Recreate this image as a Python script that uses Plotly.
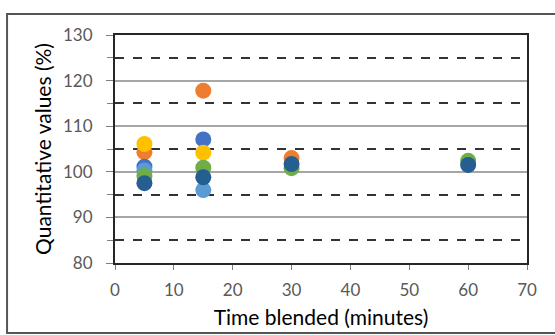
import plotly.graph_objects as go

time_min = [5, 15, 30, 60]

series_names = ["Orange", "Blue", "Yellow", "Light blue", "Green", "Dark blue"]
series_colors = ["#ED7D31", "#4472C4", "#FFC000", "#5B9BD5", "#70AD47", "#255E91"]
orange_vals = [104.3, 117.8, 103.0, None]
blue_vals = [101.1, 107.1, None, None]
yellow_vals = [106.1, 104.2, None, None]
lightblue_vals = [100.3, 96.0, None, None]
green_vals = [99.1, 100.9, 100.8, 102.4]
darkblue_vals = [97.5, 98.8, 101.7, 101.5]
all_vals = [orange_vals, blue_vals, yellow_vals, lightblue_vals, green_vals, darkblue_vals]

x_ticks = [0, 10, 20, 30, 40, 50, 60, 70]
y_ticks = [80, 90, 100, 110, 120, 130]

fig = go.Figure()
for name, color, vals in zip(series_names, series_colors, all_vals):
    fig.add_trace(go.Scatter(
        x=time_min, y=vals, mode="markers", name=name,
        marker=dict(size=16, color=color, line=dict(width=0)),
        showlegend=False,
    ))

font_family = "Lato, 'Open Sans', sans-serif"

fig.update_layout(
    width=555, height=335,
    margin=dict(l=115, r=28, t=35, b=72),
    paper_bgcolor="white", plot_bgcolor="white",
    font=dict(family=font_family, color="#595959", size=17),
    xaxis=dict(
        range=[0, 70], tickvals=x_ticks, ticks="outside", ticklen=5, automargin=False,
        tickcolor="#808080", showgrid=False, zeroline=False, ticklabelstandoff=6,
        showline=True, linecolor="#262626", linewidth=1.5, mirror=True,
        title=dict(text="Time blended (minutes)", font=dict(size=21, color="black"), standoff=11),
    ),
    yaxis=dict(
        range=[80, 130], tickvals=y_ticks, ticks="outside", ticklen=7, automargin=False,
        tickcolor="#808080", showgrid=True, gridcolor="#A6A6A6", gridwidth=1.5,
        zeroline=False, showline=True, linecolor="#262626", linewidth=2, mirror=True,
        ticklabelstandoff=10,
        minor=dict(dtick=5, tick0=80, showgrid=True, gridcolor="#333333", gridwidth=2,
                   griddash="dash", ticks="outside", ticklen=6, tickcolor="#808080"),
        title=dict(text="Quantitative values (%)", font=dict(size=21, color="black"), standoff=6),
    ),
)

fig.add_shape(type="rect", xref="paper", yref="paper",
              x0=-0.262, x1=1.2, y0=-0.307, y1=1.092,
              line=dict(color="#555555", width=2), fillcolor="rgba(0,0,0,0)", layer="above")

fig.write_html("out.html", config={"displayModeBar": False},
               post_script="document.body.style.margin='0';")
